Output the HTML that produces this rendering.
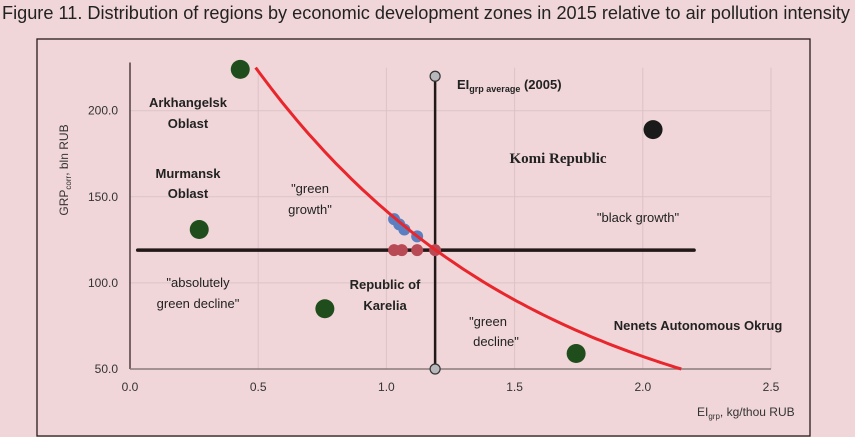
<!DOCTYPE html>
<html><head><meta charset="utf-8"><style>
body{margin:0;background:#f0d6d9;}
svg{display:block;font-family:"Liberation Sans",sans-serif;}
</style></head><body>
<svg id="chart" width="855" height="437" viewBox="0 0 855 437" xmlns="http://www.w3.org/2000/svg">
<rect x="0" y="0" width="855" height="437" fill="#f0d6d9"/>
<text x="2" y="19" font-size="18" fill="#222" textLength="848" lengthAdjust="spacingAndGlyphs">Figure 11. Distribution of regions by economic development zones in 2015 relative to air pollution intensity</text>
<rect x="37" y="39" width="773" height="397" fill="none" stroke="#2a1a1a" stroke-width="1.3"/>
<g id="grid"></g>
<g id="axes"></g>
<g id="marks"></g>
<g font-weight="bold" font-size="13" fill="#222" text-anchor="middle">
<text x="188" y="107">Arkhangelsk</text>
<text x="188" y="128">Oblast</text>
<text x="188" y="178">Murmansk</text>
<text x="188" y="198">Oblast</text>
<text x="310" y="193" font-weight="normal">"green</text>
<text x="310" y="214" font-weight="normal">growth"</text>
<text x="198" y="287" font-weight="normal">"absolutely</text>
<text x="198" y="308" font-weight="normal">green decline"</text>
<text x="385" y="289">Republic of</text>
<text x="385" y="310">Karelia</text>
<text x="558" y="163" font-family="Liberation Serif,serif" font-size="15">Komi Republic</text>
<text x="638" y="222" font-weight="normal">"black growth"</text>
<text x="488" y="326" font-weight="normal">"green</text>
<text x="496" y="346" font-weight="normal">decline"</text>
<text x="698" y="330">Nenets Autonomous Okrug</text>
<text x="457" y="89" text-anchor="start">EI<tspan font-size="9" dy="3">grp average</tspan><tspan dy="-3"> (2005)</tspan></text>
</g>
<text x="697" y="416" font-size="12" fill="#333">EI<tspan font-size="8" dy="3">grp</tspan><tspan dy="-3">, kg/thou RUB</tspan></text>
<text transform="translate(68,170) rotate(-90)" font-size="12" fill="#333" text-anchor="middle">GRP<tspan font-size="8" dy="3">corr</tspan><tspan dy="-3">, bln RUB</tspan></text>
</svg>
<script>
const xTicks=[0,0.5,1.0,1.5,2.0,2.5];
const yTicks=[50,100,150,200];
const regionNames=["arkhangelsk","komi","murmansk","karelia","nenets"];
const regionX=[0.43,2.04,0.27,0.76,1.74];
const regionY=[224,189,131,85,59];
const regionColors=["#1f4d1c","#1a1a1a","#1f4d1c","#1f4d1c","#1f4d1c"];
const blueX=[1.03,1.05,1.07,1.12];
const blueY=[137,134,131,127];
const redX=[1.03,1.06,1.12,1.19];
const redY=[119,119,119,119];
const avgX=[1.19];
const avgY=[119];
const curveK=[0.906];
const curveRange=[0.49,2.15];
const hLineRange=[0.03,2.2];
const vLineRange=[50,220];

const NS="http://www.w3.org/2000/svg";
const X=v=>130+v*256.4;
const Y=v=>369-(v-50)*1.722;
function mk(tag,attrs,parent){const e=document.createElementNS(NS,tag);for(const k in attrs)e.setAttribute(k,attrs[k]);parent.appendChild(e);return e;}
const grid=document.getElementById('grid'),axes=document.getElementById('axes'),marks=document.getElementById('marks');
xTicks.forEach(t=>{if(t>0){const l=mk('line',{x1:X(t),x2:X(t),y1:Y(225),y2:Y(50),stroke:'#dcc3c6','stroke-width':1},grid);

}
const tx=mk('text',{x:X(t),y:391,'font-size':12,fill:'#333','text-anchor':'middle'},axes);tx.textContent=t.toFixed(1);

});
yTicks.forEach(t=>{if(t>50){const l=mk('line',{x1:X(0),x2:X(2.5),y1:Y(t),y2:Y(t),stroke:'#dcc3c6','stroke-width':1},grid);

}
const tx=mk('text',{x:118,y:Y(t)+4,'font-size':12,fill:'#333','text-anchor':'end'},axes);tx.textContent=t.toFixed(1);

});
let a=mk('line',{x1:X(0),x2:X(0),y1:Y(228),y2:Y(50),stroke:'#2a1a1a','stroke-width':1.2},axes);


a=mk('line',{x1:X(0),x2:X(2.5),y1:Y(50),y2:Y(50),stroke:'#8a7a7a','stroke-width':1.5},axes);


let h=mk('line',{x1:X(hLineRange[0]),x2:X(hLineRange[1]),y1:Y(avgY[0]),y2:Y(avgY[0]),stroke:'#231818','stroke-width':3.5,'stroke-linecap':'round'},marks);


let v=mk('line',{x1:X(avgX[0]),x2:X(avgX[0]),y1:Y(vLineRange[0]),y2:Y(vLineRange[1]),stroke:'#231818','stroke-width':2.5},marks);


vLineRange.forEach(yv=>{const c=mk('circle',{cx:X(avgX[0]),cy:Y(yv),r:5,fill:'#b8b8bc',stroke:'#333','stroke-width':1.2},marks);

});
blueX.forEach((x,i)=>{const c=mk('circle',{cx:X(x),cy:Y(blueY[i]),r:6,fill:'#5b7fc0'},marks);

});
redX.forEach((x,i)=>{const c=mk('circle',{cx:X(x),cy:Y(redY[i]),r:6,fill:'#b84a55'},marks);

});
let d='';for(let i=0;i<=80;i++){const x=curveRange[0]+(curveRange[1]-curveRange[0])*i/80;const y=225*Math.exp(-curveK[0]*(x-curveRange[0]));d+=(i?'L':'M')+X(x).toFixed(1)+' '+Y(y).toFixed(1);}
const p=mk('path',{d:d,fill:'none',stroke:'#e8262c','stroke-width':3},marks);


regionX.forEach((x,i)=>{const c=mk('circle',{cx:X(x),cy:Y(regionY[i]),r:9.5,fill:regionColors[i]},marks);

});
</script>
</body></html>
